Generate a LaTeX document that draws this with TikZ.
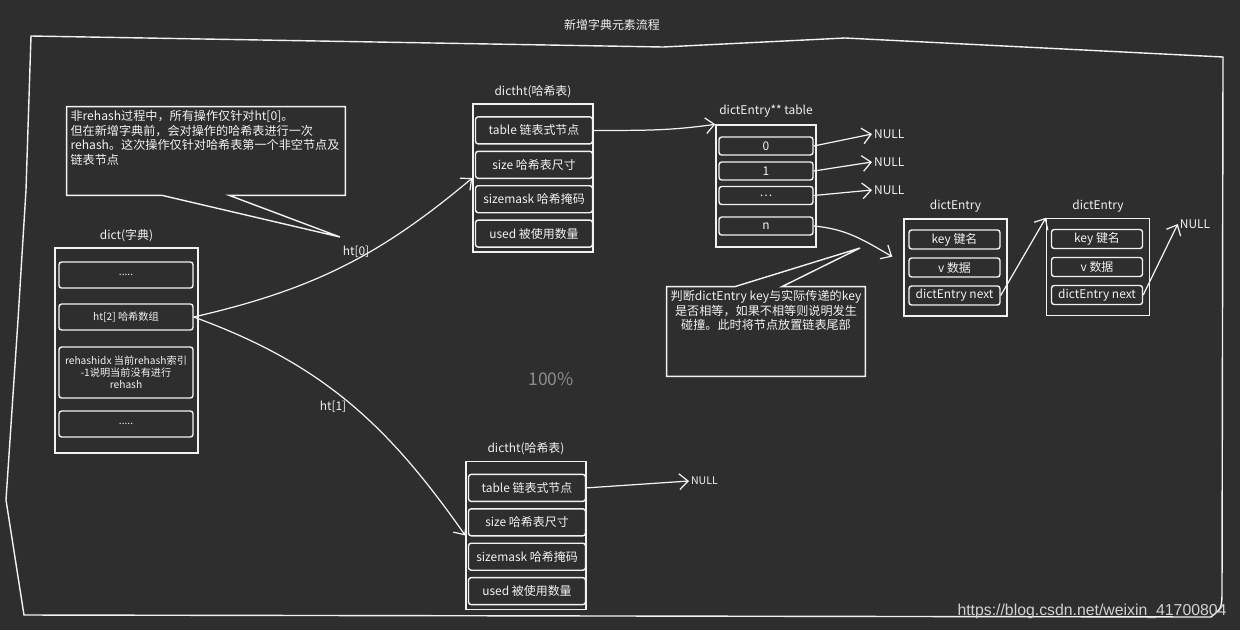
\documentclass[tikz,border=0pt]{standalone}
\usepackage{fontspec}
\setmainfont{Noto Sans CJK SC}
\newfontfamily\markfont{Liberation Sans}
\usetikzlibrary{arrows.meta,positioning,calc}
\definecolor{Board}{HTML}{2E2E2E}
\definecolor{Chalk}{HTML}{F2F2F2}
\definecolor{Dim}{HTML}{8C8C8C}
\definecolor{Faint}{HTML}{D2D2D2}
\newcommand{\dotrow}{.....}
\tikzset{
 chalkbox/.style={draw=Chalk, line width=0.8pt, inner sep=0pt},
 cell/.style={draw=Chalk, line width=0.8pt, rounded corners=1.5pt, text=Chalk, align=center, inner sep=1pt},
 heading/.style={text=Chalk, inner sep=1pt},
 notetext/.style={text=Chalk, inner sep=2pt, font=\fontsize{6.9}{8.3}\selectfont},
 arrow/.style={-{Straight Barb[length=5pt,width=9pt]}, draw=Chalk, line width=0.7pt},
 nulltext/.style={text=Chalk, inner sep=1pt}
}

\begin{document}
\begin{tikzpicture}[x=0.02cm,y=-0.02cm,font=\fontsize{6.8}{8}\selectfont]
\fill[Board] (0,0) rectangle (1240,630);
\node[heading] (title) at (612,25) {新增字典元素流程};
\draw[Chalk, line width=0.8pt] (31,36) -- (663,47) -- (845,38) -- (1223,57) -- (1222,588)
  .. controls (1222,608) .. (1211,617) -- (24,615) -- (6,500) -- (18,320) -- (26,190) -- cycle;

% dict
\node[chalkbox, minimum width=2.86cm, minimum height=4.1cm] (dict) at (126.5,350.5) {};
\node[heading, above=2pt of dict] (dictlbl) {dict(字典)};
\foreach \name/\txt/\yy/\hh in {dots0/\dotrow/275/0.52, ht2/ht[2] 哈希数组/317/0.52,
  idx/{rehashidx 当前rehash索引\\-1说明当前没有进行\\rehash}/372.5/1.02, dots1/\dotrow/424/0.52}
  \node[cell, minimum width=2.68cm, minimum height=\hh cm, font=\fontsize{5.8}{6.8}\selectfont] (\name) at (126,\yy) {\txt};

% dictht
\foreach \tb/\cx/\cy in {ht0/533/178, ht1/526/535.5}{
  \node[chalkbox, minimum width=2.4cm, minimum height=2.96cm] (\tb-box) at (\cx,\cy) {};
  \node[heading, above=2pt of \tb-box] (\tb-lbl) {dictht(哈希表)};
  \foreach \fld/\txt [count=\i] in {tbl/table 链表式节点, size/size 哈希表尺寸, mask/sizemask 哈希掩码, used/used 被使用数量}
    \node[cell, minimum width=2.34cm, minimum height=0.54cm] (\tb-\fld) at (\cx+1,\cy-82+34.4*\i) {\txt};
}
\node[heading] (ht0lbl) at (356,252) {ht[0]};
\node[heading] (ht1lbl) at (333,407) {ht[1]};
\draw[arrow] (ht2.east) to[out=13,in=220] (ht0-box.west);
\draw[arrow] (ht2.east) to[out=-20,in=125] (ht1-box.west);

% buckets
\node[chalkbox, minimum width=2cm, minimum height=2.44cm] (slots) at (766,186) {};
\node[heading, above=3pt of slots] (slotslbl) {dictEntry** table};
\foreach \txt/\yy [count=\i] in {0/146, 1/171, \ldots/195.5, n/226}
  \node[cell, minimum width=1.88cm, minimum height=0.36cm] (slot\i) at (766,\yy) {\txt};
\draw[arrow] (ht0-tbl.east) to[out=0,in=188] (slots.north west);
\foreach \i/\yy in {1/134, 2/162, 3/190}{
  \node[nulltext, anchor=west] (null\i) at (872,\yy) {NULL};
  \draw[arrow] (slot\i.east) -- (null\i.west);
}

% entries
\foreach \ent/\cx/\cy in {ent1/955.5/267.5, ent2/1098/267}{
  \node[chalkbox, minimum width=2.06cm, minimum height=1.94cm] (\ent) at (\cx,\cy) {};
  \node[heading, above=2pt of \ent] (\ent-lbl) {dictEntry};
  \foreach \fld/\txt [count=\i] in {key/key 键名, val/v 数据, next/dictEntry next}
    \node[cell, minimum width=1.82cm, minimum height=0.38cm] (\ent-\fld) at (\cx-1,\cy-56+28*\i) {\txt};
}
\draw[arrow] (slot4.east) to[out=-5,in=150] ($(ent1.north west)!0.39!(ent1.south west)+(-11,0)$);
\draw[arrow] (ent1-next.east) -- (ent2.north west);
\node[nulltext] (null4) at (1195,224) {NULL};
\draw[arrow] (ent2-next.east) -- (null4.west);
\node[nulltext, anchor=west, font=\fontsize{6}{7}\selectfont] (null5) at (689,481) {NULL};
\draw[arrow] (ht1-tbl.east) -- (null5.west);

% notes
\node[inner sep=0pt, minimum width=5.56cm, minimum height=1.76cm] (note0) at (206,151) {};
\node[notetext, anchor=north west, align=left] (note0txt) at (note0.north west) {非rehash过程中，所有操作仅针对ht[0]。\\但在新增字典前，会对操作的哈希表进行一次\\rehash。这次操作仅针对哈希表第一个非空节点及\\链表节点};
\coordinate (note0tip) at (340,237);
\draw[Chalk, line width=0.8pt] (note0.north west) -- (note0.north east) -- (note0.south east)
  -- ($(note0.south west)!0.583!(note0.south east)$) -- (note0tip)
  -- ($(note0.south west)!0.342!(note0.south east)$) -- (note0.south west) -- cycle;

\node[inner sep=0pt, minimum width=3.96cm, minimum height=1.78cm] (note1) at (766,331.5) {};
\node[notetext, anchor=north, align=center] (note1txt) at (note1.north) {判断dictEntry key与实际传递的key\\是否相等，如果不相等则说明发生\\碰撞。此时将节点放置链表尾部};
\coordinate (note1tip) at (860,248);
\draw[Chalk, line width=0.8pt] (note1.south west) -- (note1.north west)
  -- ($(note1.north west)!0.343!(note1.north east)$) -- (note1tip)
  -- ($(note1.north west)!0.58!(note1.north east)$) -- (note1.north east) -- (note1.south east) -- cycle;

\node[text=Dim, font=\fontsize{10}{12}\selectfont] (zoom) at (551,379) {100\%};
\node[text=Faint, font=\markfont\fontsize{9}{11}\selectfont] (mark) at (1092,611) {https://blog.csdn.net/weixin\_41700804};
\end{tikzpicture}
\end{document}
